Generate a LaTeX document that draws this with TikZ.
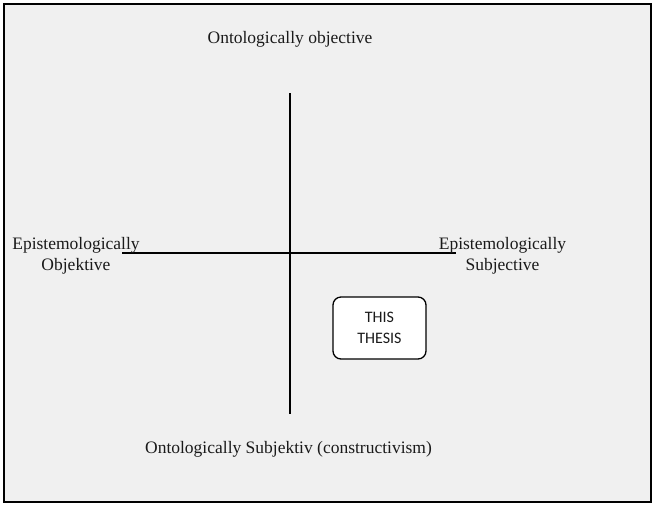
\documentclass[tikz,border=0pt]{standalone}
\usepackage{fontspec}
\setmainfont{Liberation Serif}
\newfontfamily\boxfont{Carlito}
\definecolor{panel}{HTML}{F0F0F0}
\definecolor{ink}{HTML}{1A1A1A}
\begin{document}
\begin{tikzpicture}[x=1pt,y=-1pt,
  axislabel/.style={inner sep=0pt, align=center, text=ink,
    font=\fontsize{17.5}{21}\selectfont},
  axisline/.style={line width=2pt, draw=black},
  thesisbox/.style={draw=black, line width=1.3pt, fill=white, rounded corners=8pt,
    minimum width=93pt, minimum height=62pt, align=center, text=ink,
    font=\boxfont\fontsize{16}{21}\selectfont}]
  \useasboundingbox (0,0) rectangle (652,504);
  % frame
  \draw[line width=2pt, fill=panel] (4,4) rectangle (650.5,502);
  % axes
  \coordinate (top) at (289.5,93);
  \coordinate (bottom) at (289.5,413.5);
  \coordinate (left) at (122,253);
  \coordinate (right) at (455.5,253);
  \draw[axisline] (top) -- (bottom);
  \draw[axisline] (left) -- (right);
  % labels
  \node[axislabel, anchor=base] (onto) at (290,43) {Ontologically objective};
  \node[axislabel, anchor=base] (ontsub) at (288.5,453) {Ontologically Subjektiv (constructivism)};
  \node[axislabel] (epobj) at (76,256) {Epistemologically\\Objektive};
  \node[axislabel] (epsub) at (502.5,256) {Epistemologically\\Subjective};
  % box
  \node[thesisbox] (thesis) at (379.5,328) {THIS\\THESIS};
\end{tikzpicture}
\end{document}
